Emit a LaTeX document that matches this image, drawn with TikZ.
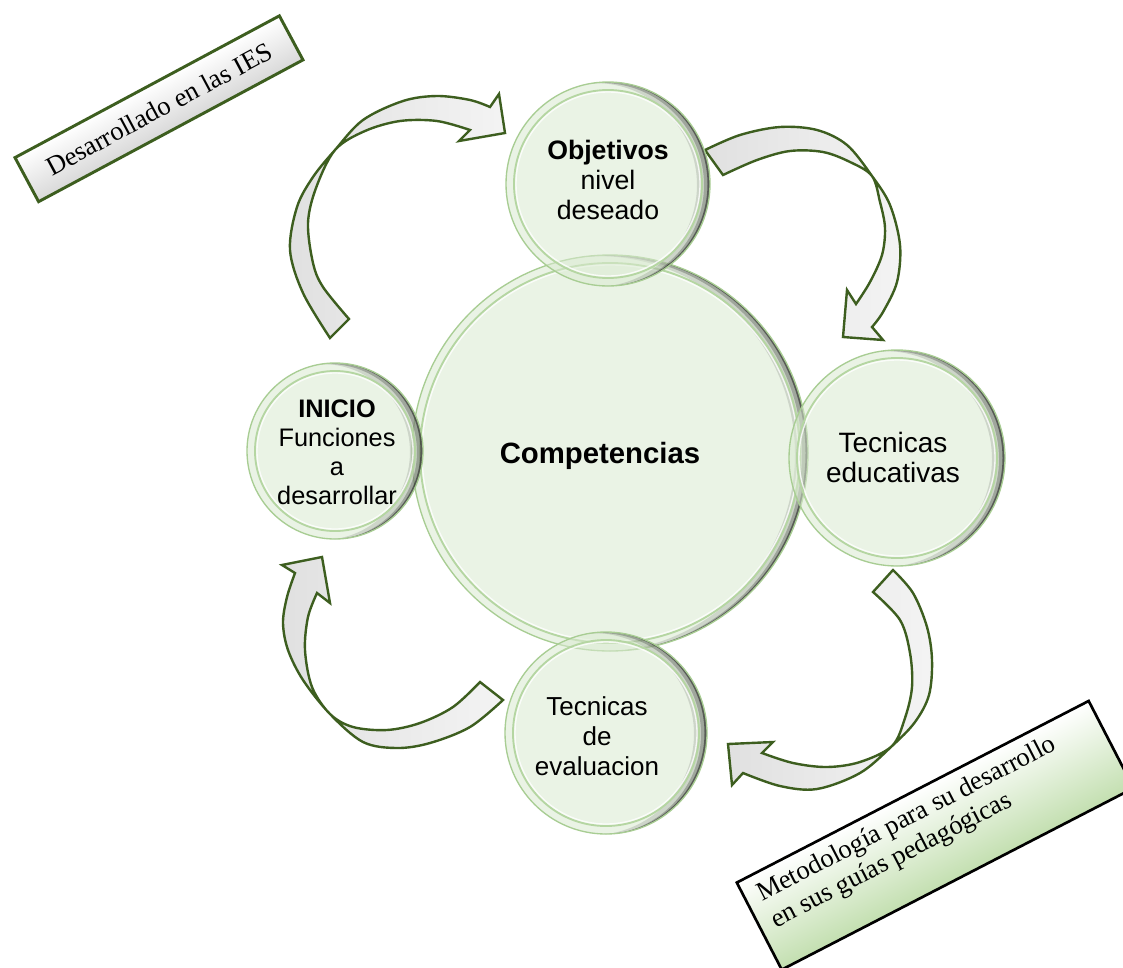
\documentclass[tikz,border=0pt]{standalone}
\usepackage{fontspec}
\setmainfont{Liberation Serif}
\newfontfamily\arialf{Liberation Sans}
\usetikzlibrary{calc}
\definecolor{dkgreen}{HTML}{3D5E1F}
\definecolor{bubfill}{HTML}{DAEAD1}
\definecolor{bubedge}{HTML}{A8CD93}
\definecolor{bubring}{HTML}{B5D6A2}
\definecolor{boxgreen}{HTML}{C3DFB0}
\newcommand\bubble[3]{%
  \fill[bubfill, fill opacity=0.55] (#1,#2) circle[radius=#3];
  \begin{scope}
    \clip (#1,#2) circle[radius=#3];
    \fill[black, fill opacity=0.12, even odd rule] (#1,#2) circle[radius=#3+2] (#1-13,#2+1) circle[radius=#3];
    \fill[black, fill opacity=0.22, even odd rule] (#1,#2) circle[radius=#3+2] (#1-6,#2+1) circle[radius=#3];
    \fill[black, fill opacity=0.45, even odd rule] (#1,#2) circle[radius=#3+2] (#1-2.5,#2) circle[radius=#3];
  \end{scope}
  \draw[bubedge, line width=1pt] (#1,#2) circle[radius=#3];
  \draw[bubring, line width=1.4pt] (#1,#2) circle[radius=#3-8];
  \draw[white, opacity=0.8, line width=1pt] (#1,#2) circle[radius=#3-10];
}
\tikzset{
  blockarrow/.style={draw=dkgreen, line width=1.8pt, line join=miter, left color=gray!24, right color=gray!9},
  ctext/.style={align=center, inner sep=0pt, font=\arialf\fontsize{20}{22.5}\selectfont},
  iesbox/.style={draw=dkgreen, line width=2.2pt, top color=white, middle color=white, bottom color=gray!30, inner sep=0pt},
  metobox/.style={draw=black, line width=2pt, top color=white, middle color=boxgreen!45, bottom color=boxgreen, inner sep=0pt},
}
\begin{document}
\begin{tikzpicture}[x=0.75pt, y=-0.75pt]
\useasboundingbox (0,0) rectangle (1123,967);
\clip (0,0) rectangle (1123,967);
\fill[white] (0,0) rectangle (1123,967);

% curved block arrows
\path[blockarrow]
  plot[smooth, tension=0.55] coordinates {(330,338) (303,293) (290,250) (297,207) (313,177) (335,150) (363,120) (403,101) (437,96) (470,100) (490,107)}
  -- (499,94) -- (505,133) -- (459,141) -- (470,130)
  -- plot[smooth, tension=0.55] coordinates {(470,130) (437,121) (400,121) (365,131) (335,150) (316,188) (308,223) (313,263) (323,287) (349,319)}
  -- cycle;

\path[blockarrow]
  plot[smooth, tension=0.55] coordinates {(705,150) (740,135) (780,127) (817,130) (847,145) (872,176) (890,205) (900,245) (897,282) (883,312) (872,327)}
  -- (883,340) -- (843,337) -- (847,290) -- (856,304)
  -- plot[smooth, tension=0.55] coordinates {(856,304) (870,282) (882,255) (885,228) (880,202) (872,176) (850,162) (823,152) (790,151) (757,160) (723,175)}
  -- cycle;

\path[blockarrow]
  plot[smooth, tension=0.55] coordinates {(893,570) (913,593) (927,627) (932,660) (929,695) (915,722) (892,746) (860,773) (817,789) (780,786) (743,773)}
  -- (732,785) -- (728,744) -- (773,742) -- (762,753)
  -- plot[smooth, tension=0.55] coordinates {(762,753) (793,763) (827,767) (860,762) (892,746) (905,718) (912,687) (910,653) (900,620) (873,592)}
  -- cycle;

\path[blockarrow]
  plot[smooth, tension=0.55] coordinates {(503,700) (470,727) (430,743) (397,748) (363,742) (330,714) (303,680) (288,650) (283,623) (287,597) (295,573)}
  -- (282,565) -- (322,557) -- (330,603) -- (317,593)
  -- plot[smooth, tension=0.55] coordinates {(317,593) (308,617) (305,650) (312,687) (330,714) (353,727) (387,730) (420,723) (453,707) (480,682)}
  -- cycle;

% bubbles
\bubble{610}{453}{198}
\bubble{608}{184}{102}
\bubble{335}{451}{88}
\bubble{897}{458}{108}
\bubble{606}{733}{101}

% bubble texts
\node[ctext, font=\arialf\bfseries\fontsize{22}{26}\selectfont] (comp) at (600,456) {Competencias};
\node[ctext] (obj) at (608,180) {\textbf{Objetivos}\\nivel\\deseado};
\node[ctext, font=\arialf\fontsize{19}{21.75}\selectfont] (ini) at (337,452) {\textbf{INICIO}\\Funciones\\a\\desarrollar};
\node[ctext, font=\arialf\fontsize{21}{22.5}\selectfont] (tedu) at (893,457) {Tecnicas\\educativas};
\node[ctext, font=\arialf\fontsize{19.5}{22.5}\selectfont] (teval) at (597,736) {Tecnicas\\de\\evaluacion};

% rotated boxes
\begin{scope}[transform canvas={shift={(13,157)}, rotate=28.2}]
  \node[iesbox, minimum width=225pt, minimum height=37.5pt, anchor=north west, font=\fontsize{20}{24}\selectfont] (ies) at (0,0) {Desarrollado en las IES};
\end{scope}
\begin{scope}[transform canvas={shift={(735,882)}, rotate=27.3}]
  \node[metobox, minimum width=297pt, minimum height=73.5pt, anchor=north west] (meto) at (0,0) {};
  \node[anchor=base west, align=left, inner sep=0pt, font=\fontsize{20}{22.5}\selectfont] (metotext) at (15,60) {Metodología para su desarrollo\\en sus guías pedagógicas};
\end{scope}
\end{tikzpicture}
\end{document}
